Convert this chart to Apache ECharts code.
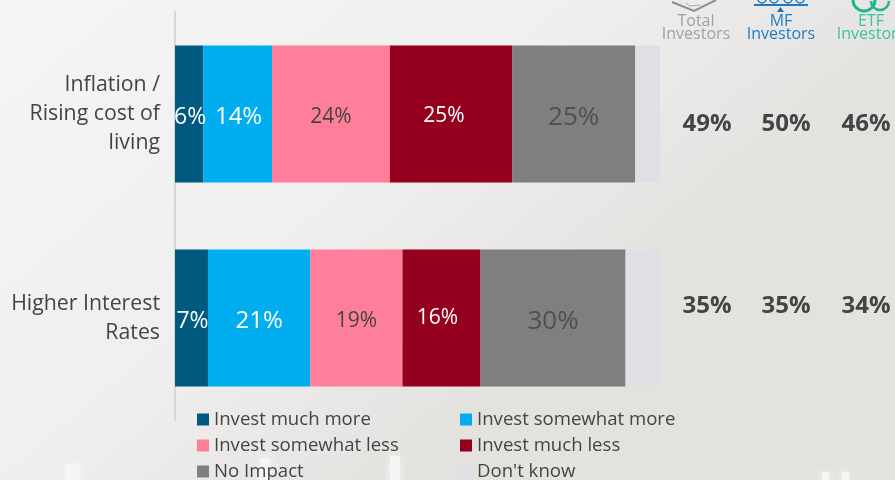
<!DOCTYPE html>
<html><head><meta charset="utf-8">
<style>html,body{margin:0;padding:0;background:#f0efee}#c{width:895px;height:480px}</style>
<script src="https://cdn.jsdelivr.net/npm/echarts@6/dist/echarts.min.js"></script></head>
<body><div id="c"></div>
<script>
const categories = ['Inflation /\nRising cost of\nliving', 'Higher Interest\nRates'];
const seriesNames = ['Invest much more','Invest somewhat more','Invest somewhat less','Invest much less','No Impact',"Don't know"];
const muchMore = [5.8, 6.8];
const somewhatMore = [14.2, 21.1];
const somewhatLess = [24.3, 19];
const muchLess = [25.2, 16.1];
const noImpact = [25.4, 29.9];
const dontKnow = [5.1, 7.1];
const shownMuchMore = ['6%','7%'];
const shownSomewhatMore = ['14%','21%'];
const shownSomewhatLess = ['24%','19%'];
const shownMuchLess = ['25%','16%'];
const shownNoImpact = ['25%','30%'];
const columnHeads = ['Total\nInvestors','MF\nInvestors','ETF\nInvestors'];
const totalInvestors = ['49%','35%'];
const mfInvestors = ['50%','35%'];
const etfInvestors = ['46%','34%'];

const font = '"Open Sans","Noto Sans",sans-serif';
const dark = '#444444';
const values = [muchMore, somewhatMore, somewhatLess, muchLess, noImpact, dontKnow];
const shown = [shownMuchMore, shownSomewhatMore, shownSomewhatLess, shownMuchLess, shownNoImpact, null];
const colors = ['#005a7f','#00aeef','#ff7f9b','#95001f','#7f7f7f','#dfe0e6'];
const labelColors = ['#ffffff','#ffffff','#444444','#ffffff','#505050','#444444'];
const labelSizes = [23,24,21,21,26,12];
const labelOffsets = [[1,3],[1,3],[0,3],[-7,2],[0,4],[0,0]];
const labelOffsets2 = [[1,3],[0,3],[0,3],[-4,0],[0,4],[0,0]];

const series = seriesNames.map((name,i)=>({
  name, type:'bar', stack:'t', barWidth:137, silent:true,
  itemStyle:{color:colors[i]},
  label:{show:!!shown[i], position:'inside', color:labelColors[i], fontSize:labelSizes[i], fontFamily:font,
    formatter:p=>shown[i]?shown[i][p.dataIndex]:''},
  data:values[i].map((v,k)=>({value:v,label:{offset:k?labelOffsets2[i]:labelOffsets[i]}}))
}));

const colX = [707,786,866];
const headX = [696,781,871];
const headColors = ['#a0a0a0','#1f7cc2','#3cc3a0'];
const rowsY = [124,306];
const g = [];
// pale background shapes along the bottom
[[66,464,14,30],[260,458,10,36],[390,456,10,36],[822,472,7,14],[842,472,7,14]].forEach(r=>{
  g.push({type:'rect',z:-1,shape:{x:r[0],y:r[1],width:r[2],height:r[3]},style:{fill:'#f6f5f4',shadowBlur:8,shadowColor:'#f6f5f4'}});
});
[totalInvestors,mfInvestors,etfInvestors].forEach((col,c)=>col.forEach((t,r)=>{
  g.push({type:'text',style:{text:t,x:colX[c],y:rowsY[r],align:'center',verticalAlign:'middle',font:'bold 24px '+font,fill:dark}});
}));
columnHeads.forEach((t,c)=>{
  g.push({type:'text',style:{text:t,x:headX[c],y:27.5,align:'center',verticalAlign:'middle',font:'16px '+font,lineHeight:13,fill:headColors[c]}});
});
// header icons, cut off by the top edge
g.push({type:'polyline',shape:{points:[[672,2],[694,11],[716,0]]},style:{stroke:'#8e8e8e',lineWidth:2,fill:'none'}});
g.push({type:'polyline',shape:{points:[[686,3],[690,6],[700,5]]},style:{stroke:'#a8a8a8',lineWidth:1,fill:'none'}});
g.push({type:'line',shape:{x1:754,y1:5,x2:808,y2:5},style:{stroke:'#1f7cc2',lineWidth:2}});
[762,774,788,800].forEach(x=>g.push({type:'circle',shape:{cx:x,cy:-1,r:4},style:{stroke:'#1f7cc2',lineWidth:1.5,fill:'none'}}));
g.push({type:'polygon',shape:{points:[[777,12],[784,12],[780.5,7]]},style:{fill:'#1f6fa8'}});
g.push({type:'arc',shape:{cx:864,cy:0,r:11,startAngle:0,endAngle:Math.PI},style:{stroke:'#1fb58f',lineWidth:3,fill:'none'}});
g.push({type:'arc',shape:{cx:880,cy:1,r:9,startAngle:0,endAngle:Math.PI},style:{stroke:'#1fb58f',lineWidth:2.5,fill:'none'}});

const legendLefts = [192,455,192,455,192,455];
const legendTops = [405,405,431,431,457,457];
const legends = seriesNames.map((n,i)=>({
  data:[n],left:legendLefts[i],top:legendTops[i],itemWidth:12,itemHeight:12,selectedMode:false,icon:'rect',
  textStyle:{color:dark,fontSize:18.6,fontFamily:font}
}));

const chart = echarts.init(document.getElementById('c'),null,{renderer:'canvas'});
chart.setOption({
  animation:false,
  backgroundColor:new echarts.graphic.LinearGradient(0,0,0.45,1,[{offset:0,color:'#f5f5f5'},{offset:0.6,color:'#f0efef'},{offset:1,color:'#e4e2df'}]),
  grid:{left:175,top:12,width:485,height:408},
  xAxis:{type:'value',min:0,max:100,show:false},
  yAxis:{type:'category',inverse:true,data:categories,
    axisLine:{show:true,lineStyle:{color:'#d6d6d6',width:2}},axisTick:{show:false},
    axisLabel:{margin:15,color:dark,fontSize:21.3,fontFamily:font,lineHeight:29,align:'right'}},
  legend:legends,
  series,
  graphic:g
});
</script></body></html>
